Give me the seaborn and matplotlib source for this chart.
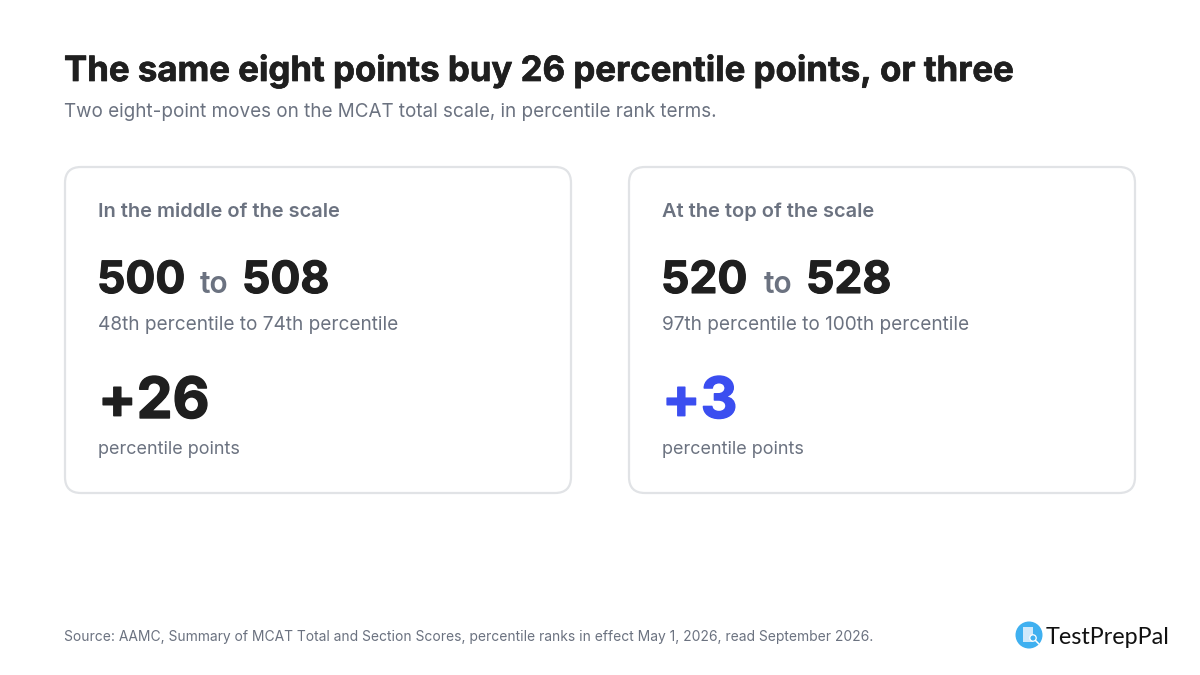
import matplotlib
matplotlib.use("Agg")
import matplotlib.pyplot as plt
import matplotlib.patheffects as pe
from matplotlib.patches import FancyBboxPatch, Circle, Rectangle
import seaborn as sns

# Card content
card_titles = ["In the middle of the scale", "At the top of the scale"]
score_from = [500, 520]
score_to = [508, 528]
pct_from = ["48th", "97th"]
pct_to = ["74th", "100th"]
pct_gain = [26, 3]
gain_colors = ["#1f1f1f", "#3b4ef0"]

title = "The same eight points buy 26 percentile points, or three"
subtitle = "Two eight-point moves on the MCAT total scale, in percentile rank terms."
source = ("Source: AAMC, Summary of MCAT Total and Section Scores, "
          "percentile ranks in effect May 1, 2026, read September 2026.")

DARK = "#1f1f1f"
GREY = "#6b7280"
BORDER = "#e1e3e6"

sns.set_theme(style="white")
plt.rcParams["font.family"] = ["Inter", "DejaVu Sans"]


def heavy(color, width):
    # Inter here is a bit lighter than the reference, thicken it slightly
    return [pe.withStroke(linewidth=width, foreground=color)]


fig = plt.figure(figsize=(12, 6.75), dpi=100)
ax = fig.add_axes([0, 0, 1, 1])
ax.set_xlim(0, 1200)
ax.set_ylim(675, 0)
ax.axis("off")

ax.text(64, 81, title, fontsize=25.05, fontweight="bold", color=DARK, va="baseline",
        path_effects=heavy(DARK, 0.5))
ax.text(64, 117, subtitle, fontsize=13.57, color=GREY, va="baseline")

# Two cards side by side
for i, left in enumerate([65, 629]):
    ax.add_patch(FancyBboxPatch((left + 16, 183), 474, 294,
                                boxstyle="round,pad=16,rounding_size=16",
                                fc="white", ec=BORDER, lw=1.6))
    tx = left + 33
    ax.text(tx, 217, card_titles[i], fontsize=14.4, fontweight="semibold", color=GREY, va="baseline")
    ax.text(tx - 1, 293, str(score_from[i]), fontsize=32, fontweight="bold", color=DARK, va="baseline",
            path_effects=heavy(DARK, 0.8))
    ax.text(tx + 102, 293, "to", fontsize=21.5, fontweight="semibold", color=GREY, va="baseline")
    ax.text(tx + 144, 293, str(score_to[i]), fontsize=32, fontweight="bold", color=DARK, va="baseline",
            path_effects=heavy(DARK, 0.8))
    ax.text(tx, 330, f"{pct_from[i]} percentile to {pct_to[i]} percentile",
            fontsize=13.7, color=GREY, va="baseline")
    ax.text(tx, 418, f"+{pct_gain[i]}", fontsize=41, fontweight="bold", color=gain_colors[i], va="baseline",
            path_effects=heavy(gain_colors[i], 1.0))
    ax.text(tx, 454, "percentile points", fontsize=12.95, color=GREY, va="baseline")

ax.text(64, 641, source, fontsize=9.98, color=GREY, va="baseline")

# Logo
ax.add_patch(Circle((1029, 635), 13.5, fc="#3fb0f0", ec="none"))
ax.add_patch(Rectangle((1023, 627), 10, 15, fc="#cfe9fb", ec="none"))
ax.add_patch(Circle((1033, 638), 3.2, fc="#3fb0f0", ec="white", lw=0.9))
ax.plot([1035.5, 1039], [640.5, 644], color="white", lw=1.1)
ax.text(1046, 644, "TestPrepPal", fontsize=16.8, color="#111111", va="baseline",
        family=["Lato", "DejaVu Sans"])

fig.savefig("out.png", dpi=100, facecolor="white")
